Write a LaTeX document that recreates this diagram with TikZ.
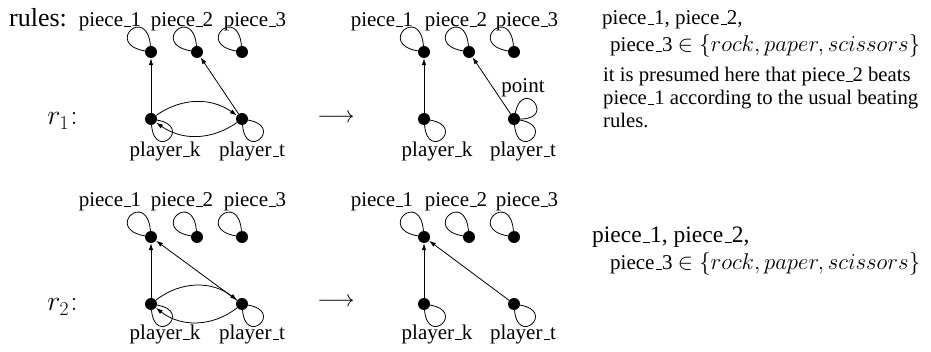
\documentclass[tikz,border=0pt]{standalone}
\usepackage{fix-cm}
\usepackage{fontspec}
\setmainfont{Liberation Serif}
\usetikzlibrary{arrows.meta}
\newcommand\us{\leavevmode\kern.06em\vbox{\hrule width.3em height 0.9pt}}
\newcommand\fs{\fontsize{21}{23}\selectfont}
\newcommand\setx{{\fontsize{22.8}{25}\selectfont$\in\{rock,paper,scissors\}$}}
\begin{document}
\begin{tikzpicture}[x=1pt,y=-1pt,
  dot/.style={circle,fill=black,inner sep=0pt,minimum size=12pt},
  lbl/.style={font=\fs,anchor=base,inner sep=0pt},
  txt/.style={font=\fs,anchor=base west,inner sep=0pt},
  con/.style={line width=0.8pt},
  arr/.style={con,-{Latex[length=7pt,width=4.5pt]}},
  rlab/.style={anchor=base,inner sep=0pt,font=\fontsize{28}{30}\selectfont},
]
\useasboundingbox (0,0) rectangle (931,352);
% ---------- texts on the left
\node[anchor=base west,inner sep=0pt,font=\fontsize{26}{28}\selectfont] (rules) at (9,27) {rules:};
\node[rlab] (rA) at (62.5,125) {$r_1\mkern1mu{:}$};
\node[rlab] (rC) at (62.5,311) {$r_2\mkern1mu{:}$};
\node[inner sep=0pt,font=\fontsize{23}{23}\selectfont] (arA) at (336,118) {$\longrightarrow$};
\node[inner sep=0pt,font=\fontsize{23}{23}\selectfont] (arC) at (336,302) {$\longrightarrow$};
% ---------- panel A (r1, left)
\node[dot] (a1) at (151,52) {};
\node[dot] (a2) at (197,52) {};
\node[dot] (a3) at (242,52) {};
\node[dot] (aK) at (151,119) {};
\node[dot] (aT) at (242,119) {};
\node[lbl] (la1) at (110,27) {piece\us1};
\node[lbl] (la2) at (182,27) {piece\us2};
\node[lbl] (la3) at (255,27) {piece\us3};
\node[lbl] (laK) at (165,157) {player\us k};
\node[lbl] (laT) at (252,157) {player\us t};
\foreach \n in {a1,a2,a3} \draw[con] (\n) .. controls +(95:48pt) and +(170:48pt) .. (\n);
\foreach \n in {aK,aT} \draw[con] (\n) .. controls +(-85:43pt) and +(-10:43pt) .. (\n);
\draw[arr] (aK) -- (a1);
\draw[arr] (aT) -- (a2);
\draw[arr] (aK) to[bend left=35] (aT);
\draw[arr] (aT) to[bend left=35] (aK);
% ---------- panel B (r1, right)
\node[dot] (b1) at (424,52) {};
\node[dot] (b2) at (469,52) {};
\node[dot] (b3) at (514,52) {};
\node[dot] (bK) at (424,119) {};
\node[dot] (bT) at (514,119) {};
\node[lbl] (lb1) at (382,27) {piece\us1};
\node[lbl] (lb2) at (456,27) {piece\us2};
\node[lbl] (lb3) at (527,27) {piece\us3};
\node[lbl] (lbK) at (437,157) {player\us k};
\node[lbl] (lbT) at (523,157) {player\us t};
\node[lbl] (lpt) at (523,92.5) {point};
\foreach \n in {b1,b2,b3} \draw[con] (\n) .. controls +(95:48pt) and +(170:48pt) .. (\n);
\foreach \n in {bK,bT} \draw[con] (\n) .. controls +(-85:43pt) and +(-10:43pt) .. (\n);
\draw[con] (bT) .. controls +(78:43pt) and +(0:43pt) .. (bT);
\draw[arr] (bK) -- (b1);
\draw[arr] (bT) -- (b2);
% ---------- panel C (r2, left)
\node[dot] (c1) at (151,237) {};
\node[dot] (c2) at (197,237) {};
\node[dot] (c3) at (242,237) {};
\node[dot] (cK) at (151,304) {};
\node[dot] (cT) at (242,304) {};
\node[lbl] (lc1) at (110,207) {piece\us1};
\node[lbl] (lc2) at (182,207) {piece\us2};
\node[lbl] (lc3) at (255,207) {piece\us3};
\node[lbl] (lcK) at (165,340) {player\us k};
\node[lbl] (lcT) at (252,340) {player\us t};
\foreach \n in {c1,c2,c3} \draw[con] (\n) .. controls +(95:48pt) and +(170:48pt) .. (\n);
\foreach \n in {cK,cT} \draw[con] (\n) .. controls +(-85:43pt) and +(-10:43pt) .. (\n);
\draw[arr] (cK) -- (c1);
\draw[arr] (cT) -- (c1);
\draw[arr] (cK) to[bend left=38] (cT);
\draw[arr] (cT) to[bend left=38] (cK);
% ---------- panel D (r2, right)
\node[dot] (d1) at (424,237) {};
\node[dot] (d2) at (469,237) {};
\node[dot] (d3) at (514,237) {};
\node[dot] (dK) at (424,304) {};
\node[dot] (dT) at (514,304) {};
\node[lbl] (ld1) at (382,207) {piece\us1};
\node[lbl] (ld2) at (456,207) {piece\us2};
\node[lbl] (ld3) at (527,207) {piece\us3};
\node[lbl] (ldK) at (437,340) {player\us k};
\node[lbl] (ldT) at (523,340) {player\us t};
\foreach \n in {d1,d2,d3} \draw[con] (\n) .. controls +(95:48pt) and +(170:48pt) .. (\n);
\foreach \n in {dK,dT} \draw[con] (\n) .. controls +(-85:43pt) and +(-10:43pt) .. (\n);
\draw[arr] (dK) -- (d1);
\draw[arr] (dT) -- (d1);
% ---------- right-hand texts
\node[txt] (t1) at (602,25) {piece\us1, piece\us2,};
\node[txt] (t2) at (610,52) {piece\us3 \setx};
\node[txt,font=\fontsize{20.7}{23}\selectfont] (t3) at (603,82) {it is presumed here that piece\us2 beats};
\node[txt,font=\fontsize{20.7}{23}\selectfont] (t4) at (603,105) {piece\us1 according to the usual beating};
\node[txt,font=\fontsize{20.7}{23}\selectfont] (t5) at (603,128) {rules.};
\node[txt,font=\fontsize{23.5}{25}\selectfont] (t6) at (592,243) {piece\us1, piece\us2,};
\node[txt] (t7) at (610,270) {piece\us3 \setx};
\end{tikzpicture}
\end{document}
